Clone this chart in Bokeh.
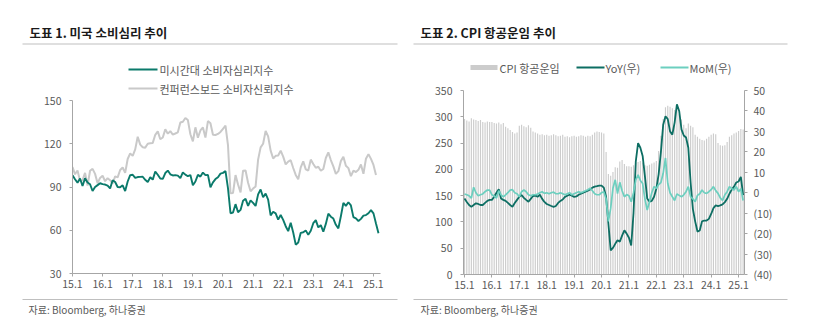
from bokeh.plotting import figure
from bokeh.layouts import row, column
from bokeh.models import Range1d, LinearAxis, FixedTicker
from bokeh.core.properties import value
from bokeh.embed import file_html
from bokeh.resources import INLINE

# ---------------- data ----------------
year_labels = ["15.1", "16.1", "17.1", "18.1", "19.1", "20.1", "21.1", "22.1", "23.1", "24.1", "25.1"]

# Chart 1: University of Michigan sentiment (2015.01-2025.03)
michigan = [
    98.1, 95.4, 93.0, 95.9, 90.7, 96.1, 93.1, 91.9, 87.2, 90.0, 91.3, 92.6,
    92.0, 91.7, 91.0, 89.0, 94.7, 93.5, 90.0, 89.8, 91.2, 87.2, 93.8, 98.2,
    98.5, 96.3, 96.9, 97.0, 97.1, 95.0, 93.4, 96.8, 95.1, 100.7, 98.5, 95.9,
    95.7, 99.7, 101.4, 98.8, 98.0, 98.2, 97.9, 96.2, 100.1, 98.6, 97.5, 98.3,
    91.2, 93.8, 98.4, 97.2, 100.0, 98.2, 98.4, 89.8, 93.2, 95.5, 96.8, 99.3,
    99.8, 101.0, 89.1, 71.8, 72.3, 78.1, 72.5, 74.1, 80.4, 81.8, 76.9, 80.7,
    79.0, 76.8, 84.9, 88.3, 82.9, 85.5, 81.2, 70.3, 72.8, 71.7, 67.4, 70.6,
    67.2, 62.8, 59.4, 65.2, 58.4, 50.0, 51.5, 58.2, 58.6, 59.9, 56.8, 59.7,
    64.9, 67.0, 62.0, 63.5, 59.0, 64.4, 71.5, 69.4, 68.1, 63.8, 61.3, 69.7,
    79.0, 76.9, 79.4, 77.2, 69.1, 68.2, 66.4, 67.9, 70.1, 70.5, 71.8, 74.0,
    71.7, 64.7, 57.9,
]
# Chart 1: Conference Board confidence (2015.01-2025.02)
conference = [
    103.8, 98.8, 101.4, 94.3, 94.6, 99.8, 91.0, 101.3, 102.6, 99.1, 92.6, 96.3,
    97.8, 94.0, 96.1, 94.7, 92.4, 97.4, 96.7, 101.8, 103.5, 99.8, 109.4, 113.3,
    111.6, 116.1, 124.9, 119.4, 117.6, 117.3, 120.0, 120.4, 120.6, 126.2, 128.6, 123.1,
    124.3, 130.0, 127.0, 128.7, 126.4, 127.1, 127.9, 134.7, 135.3, 137.9, 136.4, 126.6,
    121.7, 131.4, 124.2, 129.2, 131.3, 124.3, 135.7, 134.2, 126.3, 126.1, 126.8, 128.2,
    130.4, 132.6, 118.8, 85.7, 85.9, 98.3, 91.7, 86.3, 101.3, 101.4, 92.9, 87.1,
    88.9, 90.4, 109.0, 117.5, 120.0, 128.9, 125.1, 115.2, 109.8, 111.6, 111.9, 115.2,
    111.1, 105.7, 107.6, 108.6, 103.2, 98.4, 95.3, 103.6, 107.8, 102.2, 101.4, 109.0,
    106.0, 103.4, 104.0, 101.3, 102.5, 110.1, 114.0, 108.7, 104.3, 99.1, 101.0, 108.0,
    110.9, 104.8, 103.1, 97.5, 101.3, 100.4, 101.9, 105.6, 99.2, 109.6, 112.8, 109.5,
    105.3, 98.3,
]

# Chart 2: CPI airline fares index (left), YoY / MoM % (right), 2015.01-2025.03
cpi_air = [
    296, 293, 291, 297, 295, 294, 292, 294, 290, 289, 291, 290,
    290, 288, 287, 289, 286, 288, 281, 278, 275, 271, 268, 270,
    283, 285, 282, 280, 284, 279, 272, 270, 268, 266, 267, 265,
    266, 264, 265, 267, 265, 263, 264, 266, 262, 263, 261, 263,
    264, 262, 263, 265, 264, 262, 264, 263, 266, 270, 272, 271,
    270, 268, 233, 191, 188, 195, 204, 203, 215, 218, 210, 206,
    206, 205, 208, 212, 214, 216, 213, 208, 207, 209, 211, 213,
    216, 235, 264, 296, 318, 321, 319, 316, 313, 318, 305, 295,
    285, 278, 287, 283, 280, 266, 262, 258, 256, 255, 258, 262,
    266, 268, 267, 250, 246, 245, 246, 252, 262, 265, 268, 270,
    273, 277, 276,
]
yoy = [
    -2.8, -4.5, -6.0, -6.9, -6.0, -5.2, -5.5, -6.0, -6.0, -5.0, -4.0, -3.5,
    -3.5, -2.0, 0.0, 1.7, -2.8, -3.5, -4.0, -5.0, -6.0, -6.9, -5.0, -3.5,
    -2.0, -1.1, -2.5, -3.5, -4.4, -3.0, -1.6, -1.4, -2.0, -1.0, -3.0, -4.5,
    -5.5, -6.0, -6.5, -6.9, -6.5, -5.0, -4.0, -3.3, -2.0, -1.5, -1.0, -1.5,
    -2.0, -1.8, -1.0, -0.5, 0.0, 0.5, 1.0, 1.6, 2.5, 3.0, 3.2, 3.5,
    3.5, 2.5, -2.0, -15.0, -28.2, -27.0, -25.0, -23.3, -24.0, -21.0, -18.4, -20.0,
    -22.0, -25.8, -10.0, 15.3, 24.3, 22.0, 18.0, 8.0, -2.8, -4.4, -4.0, -2.0,
    2.0, 9.0, 20.0, 33.3, 37.4, 36.0, 30.0, 28.4, 34.3, 43.2, 40.0, 31.0,
    28.0, 27.0, 22.0, 5.0, -8.0, -14.0, -19.0, -18.5, -14.0, -13.6, -13.6, -12.8,
    -10.4, -7.5, -6.2, -6.5, -6.2, -5.7, -4.6, -3.0, -0.5, 1.5, 3.0, 5.0,
    5.5, 7.7, -1.2,
]
mom = [
    -0.6, -1.0, -1.5, -2.6, 2.7, 0.0, -1.5, -1.0, -0.6, 0.5, 1.3, 1.3,
    -1.0, -1.6, -2.6, 1.0, -1.0, -2.0, -1.0, 0.0, 1.3, 1.5, 0.0, -0.5,
    -2.0, 0.5, 1.3, 0.5, -1.0, -1.5, -1.0, -1.0, -0.6, 0.0, 0.5, -0.3,
    0.0, -0.5, 0.0, 0.3, -0.5, -0.5, 0.0, -0.5, -1.0, -0.5, 0.0, -1.0,
    -0.5, 0.0, 0.5, 0.0, 0.5, 1.0, 1.5, 2.2, 1.0, -0.5, -1.0, -1.0,
    0.0, 0.5, -3.0, -14.0, -7.7, 2.2, 6.3, -0.4, 5.1, 1.0, -2.0, -0.9,
    -1.5, -4.4, 0.0, 6.3, 8.7, 6.0, 4.5, -3.0, -8.5, -4.4, 0.0, 3.0,
    2.2, 4.0, 5.0, 9.5, 17.0, 4.5, 0.0, -2.0, -3.8, -0.6, -1.3, -2.0,
    -1.0, 0.5, 3.0, -2.0, -3.0, -4.4, -1.3, -0.5, 1.3, 0.0, -0.3, 0.5,
    1.5, 3.0, 1.0, -0.3, -2.5, -3.8, -1.0, 0.5, 3.0, 2.0, 1.3, 3.0,
    0.5, 2.0, -3.8,
]

titles = ["도표 1. 미국 소비심리 추이", "도표 2. CPI 항공운임 추이"]
source_text = "자료: Bloomberg, 하나증권"
legend1 = ["미시간대 소비자심리지수", "컨퍼런스보드 소비자신뢰지수"]
legend2 = ["CPI 항공운임", "YoY(우)", "MoM(우)"]

# ---------------- style ----------------
FONT = "Noto Sans CJK KR"
TXT = "#595959"
AXIS = "#a6a6a6"
RULE = "#bfbfbf"
GREEN = "#0b7a6b"
DARK = "#0d6e63"
MINT = "#6ccfbf"
GRAY_LINE = "#c9c9c9"
BAR = "#cccccc"

W1 = 408
W2 = 817 - W1
TOTAL_H = 322
year_ticks = list(range(0, 121, 12))
x_over = {t: lab for t, lab in zip(year_ticks, year_labels)}


def finish(p):
    p.xgrid.visible = False
    p.ygrid.visible = False
    p.outline_line_color = None
    p.background_fill_color = "white"
    p.border_fill_color = "white"
    p.frame_align = False
    return p


def strip(width, y0, y1):
    """A bare figure whose frame is the whole canvas; pixel coordinates, y downwards."""
    p = figure(width=width, height=y1 - y0, output_backend="svg", toolbar_location=None,
               x_range=Range1d(0, width), y_range=Range1d(y1, y0),
               min_border=0, min_border_left=0, min_border_right=0,
               min_border_top=0, min_border_bottom=0)
    p.axis.visible = False
    return finish(p)


def txt(p, x, y, s, size="10.5px", color=TXT, bold=False):
    p.text(x=[x], y=[y], text=[s], text_font=value(FONT), text_font_size=value(size),
           text_color=color, text_font_style="bold" if bold else "normal",
           text_align="left", text_baseline="middle")


def chart_fig(width, y0, y1, fl, fr, ft, fb, xr, yr):
    p = figure(width=width, height=y1 - y0, output_backend="svg", toolbar_location=None,
               x_range=xr, y_range=yr,
               min_border_left=fl, min_border_right=width - fr,
               min_border_top=ft - y0, min_border_bottom=y1 - fb)
    return finish(p)


def style_axis(ax, standoff):
    ax.axis_line_color = AXIS
    ax.major_tick_line_color = AXIS
    ax.minor_tick_line_color = None
    ax.major_tick_in = 0
    ax.major_tick_out = 3
    ax.major_label_text_font = FONT
    ax.major_label_text_font_size = "10.5px"
    ax.major_label_text_color = TXT
    ax.major_label_standoff = standoff


BOT0 = 292  # start of bottom strips

# ---------------- chart 1 ----------------
T1 = 56
top1 = strip(W1, 0, T1)
txt(top1, 29, 32, titles[0], size="12.5px", color="#1a1a1a", bold=True)
top1.segment(x0=[22], y0=[43.5], x1=[397], y1=[43.5], line_color=RULE, line_width=1.2)

# frame spans y 58..273 (canvas); the value axis is drawn only over 30..150
FL1, FR1, FT1, FB1 = 72, 380, 58, 273
X_END1 = 122.8
Y_PER_PX = 120.0 / 173.0
Y_TOP1 = 30 + (FB1 - FT1) * Y_PER_PX
p1 = chart_fig(W1, T1, BOT0, FL1, FR1, FT1, FB1, Range1d(0, X_END1), Range1d(30, Y_TOP1))
p1.line(list(range(len(conference))), conference, line_color=GRAY_LINE, line_width=2)
p1.line(list(range(len(michigan))), michigan, line_color=GREEN, line_width=1.9)
p1.yaxis.ticker = FixedTicker(ticks=[30, 60, 90, 120, 150])
p1.yaxis.bounds = (30, 150)
p1.xaxis.ticker = FixedTicker(ticks=year_ticks)
p1.xaxis.major_label_overrides = x_over
style_axis(p1.yaxis[0], 8)
style_axis(p1.xaxis[0], 3)


def dx1(X):
    return (X - FL1) * X_END1 / (FR1 - FL1)


def dy1(Y):
    return 30 + (FB1 - Y) * Y_PER_PX


# legend of chart 1 (inside the enlarged frame, above the value axis)
p1.segment(x0=[dx1(128)], y0=[dy1(69)], x1=[dx1(157)], y1=[dy1(69)], line_color=GREEN, line_width=2)
txt(p1, dx1(159), dy1(69), legend1[0], size="11px")
p1.segment(x0=[dx1(128)], y0=[dy1(88)], x1=[dx1(157)], y1=[dy1(88)], line_color=GRAY_LINE, line_width=2)
txt(p1, dx1(159), dy1(88), legend1[1], size="11px")

bot1 = strip(W1, BOT0, TOTAL_H)
bot1.segment(x0=[22], y0=[299], x1=[397], y1=[299], line_color=RULE, line_width=1.2)
txt(bot1, 28, 309, source_text, size="10px")

# ---------------- chart 2 ----------------
OX = W1
T2 = 80
top2 = strip(W2, 0, T2)
txt(top2, 420 - OX, 32, titles[1], size="12.5px", color="#1a1a1a", bold=True)
top2.segment(x0=[413 - OX], y0=[43.5], x1=[787 - OX], y1=[43.5], line_color=RULE, line_width=1.2)
top2.quad(left=[470 - OX], right=[497 - OX], top=[64.5], bottom=[69.5], fill_color=BAR, line_color=None)
txt(top2, 499 - OX, 67, legend2[0], size="11px")
top2.segment(x0=[576 - OX], y0=[67], x1=[604 - OX], y1=[67], line_color=DARK, line_width=2)
txt(top2, 605 - OX, 67, legend2[1], size="11px")
top2.segment(x0=[660 - OX], y0=[67], x1=[688 - OX], y1=[67], line_color=MINT, line_width=2)
txt(top2, 689 - OX, 67, legend2[2], size="11px")

p2 = chart_fig(W2, T2, BOT0, 463 - OX, 744 - OX, 90, 274, Range1d(-0.44, 122.6), Range1d(0, 350))
p2.extra_y_ranges = {"r": Range1d(-40, 50)}
p2.vbar(x=list(range(len(cpi_air))), top=cpi_air, width=0.5, fill_color=BAR, line_color=None)
p2.line(list(range(len(yoy))), yoy, line_color=DARK, line_width=1.8, y_range_name="r")
p2.line(list(range(len(mom))), mom, line_color=MINT, line_width=1.7, y_range_name="r")
p2.yaxis.ticker = FixedTicker(ticks=list(range(0, 351, 50)))
p2.xaxis.ticker = FixedTicker(ticks=year_ticks)
p2.xaxis.major_label_overrides = x_over
raxis = LinearAxis(y_range_name="r", ticker=FixedTicker(ticks=list(range(-40, 51, 10))))
raxis.major_label_overrides = {t: (str(t) if t >= 0 else "(%d)" % (-t)) for t in range(-40, 51, 10)}
p2.add_layout(raxis, "right")
style_axis(p2.yaxis[0], 8)
style_axis(raxis, 6)
style_axis(p2.xaxis[0], 3)

bot2 = strip(W2, BOT0, TOTAL_H)
bot2.segment(x0=[413 - OX], y0=[299], x1=[787 - OX], y1=[299], line_color=RULE, line_width=1.2)
txt(bot2, 420 - OX, 309, source_text, size="10px")

layout = row(column(top1, p1, bot1), column(top2, p2, bot2))
open("out.html", "w").write(file_html(layout, INLINE))
